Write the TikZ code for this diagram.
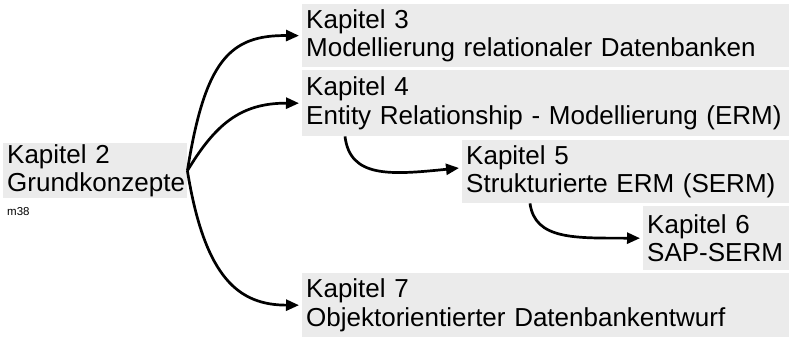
\documentclass[tikz,border=0pt]{standalone}
\usepackage{fontspec}
\setmainfont{Liberation Sans}
\usetikzlibrary{arrows.meta}
\definecolor{boxgray}{RGB}{235,235,235}
\begin{document}
\begin{tikzpicture}[x=1pt,y=-1pt,
  box/.style={fill=boxgray, anchor=north west, inner xsep=4pt, inner ysep=0pt, align=left,
    font=\fontsize{26}{28.5}\selectfont},
  arr/.style={line width=2.7pt, -{Triangle[length=13pt,width=11pt]}, shorten >=3pt},
  small/.style={anchor=west, inner sep=0pt, font=\fontsize{11.5}{13}\selectfont}]
\useasboundingbox (0,0) rectangle (789,337);
\node[box, minimum width=184pt, minimum height=55pt, text width=176pt] (k2) at (3,143) {Kapitel 2\\Grundkonzepte};
\node[box, minimum width=487pt, minimum height=63pt, text width=479pt] (k3) at (302,4) {Kapitel 3\\Modellierung relationaler Datenbanken};
\node[box, minimum width=487pt, minimum height=66pt, text width=479pt] (k4) at (302,70) {Kapitel 4\\Entity Relationship - Modellierung (ERM)};
\node[box, minimum width=327pt, minimum height=63pt, text width=319pt] (k5) at (462,140) {Kapitel 5\\Strukturierte ERM (SERM)};
\node[box, minimum width=146pt, minimum height=64pt, text width=138pt] (k6) at (643,206) {Kapitel 6\\SAP-SERM};
\node[box, minimum width=487pt, minimum height=64pt, text width=479pt] (k7) at (302,273) {Kapitel 7\\Objektorientierter Datenbankentwurf};
\node[small] (m38) at (7,212) {m38};
\draw[arr] (k2.east) .. controls (205,60) and (230,35) .. (k3.west);
\draw[arr] (k2.east) .. controls (215,125) and (240,103) .. (k4.west);
\draw[arr] (k2.east) .. controls (205,280) and (240,305) .. (k7.west);
\draw[arr] ([xshift=43pt]k4.south west) .. controls (350,178) and (390,175) .. ([yshift=4pt]k5.west);
\draw[arr] ([xshift=68pt]k5.south west) .. controls (535,240) and (575,238) .. (k6.west);
\end{tikzpicture}
\end{document}
